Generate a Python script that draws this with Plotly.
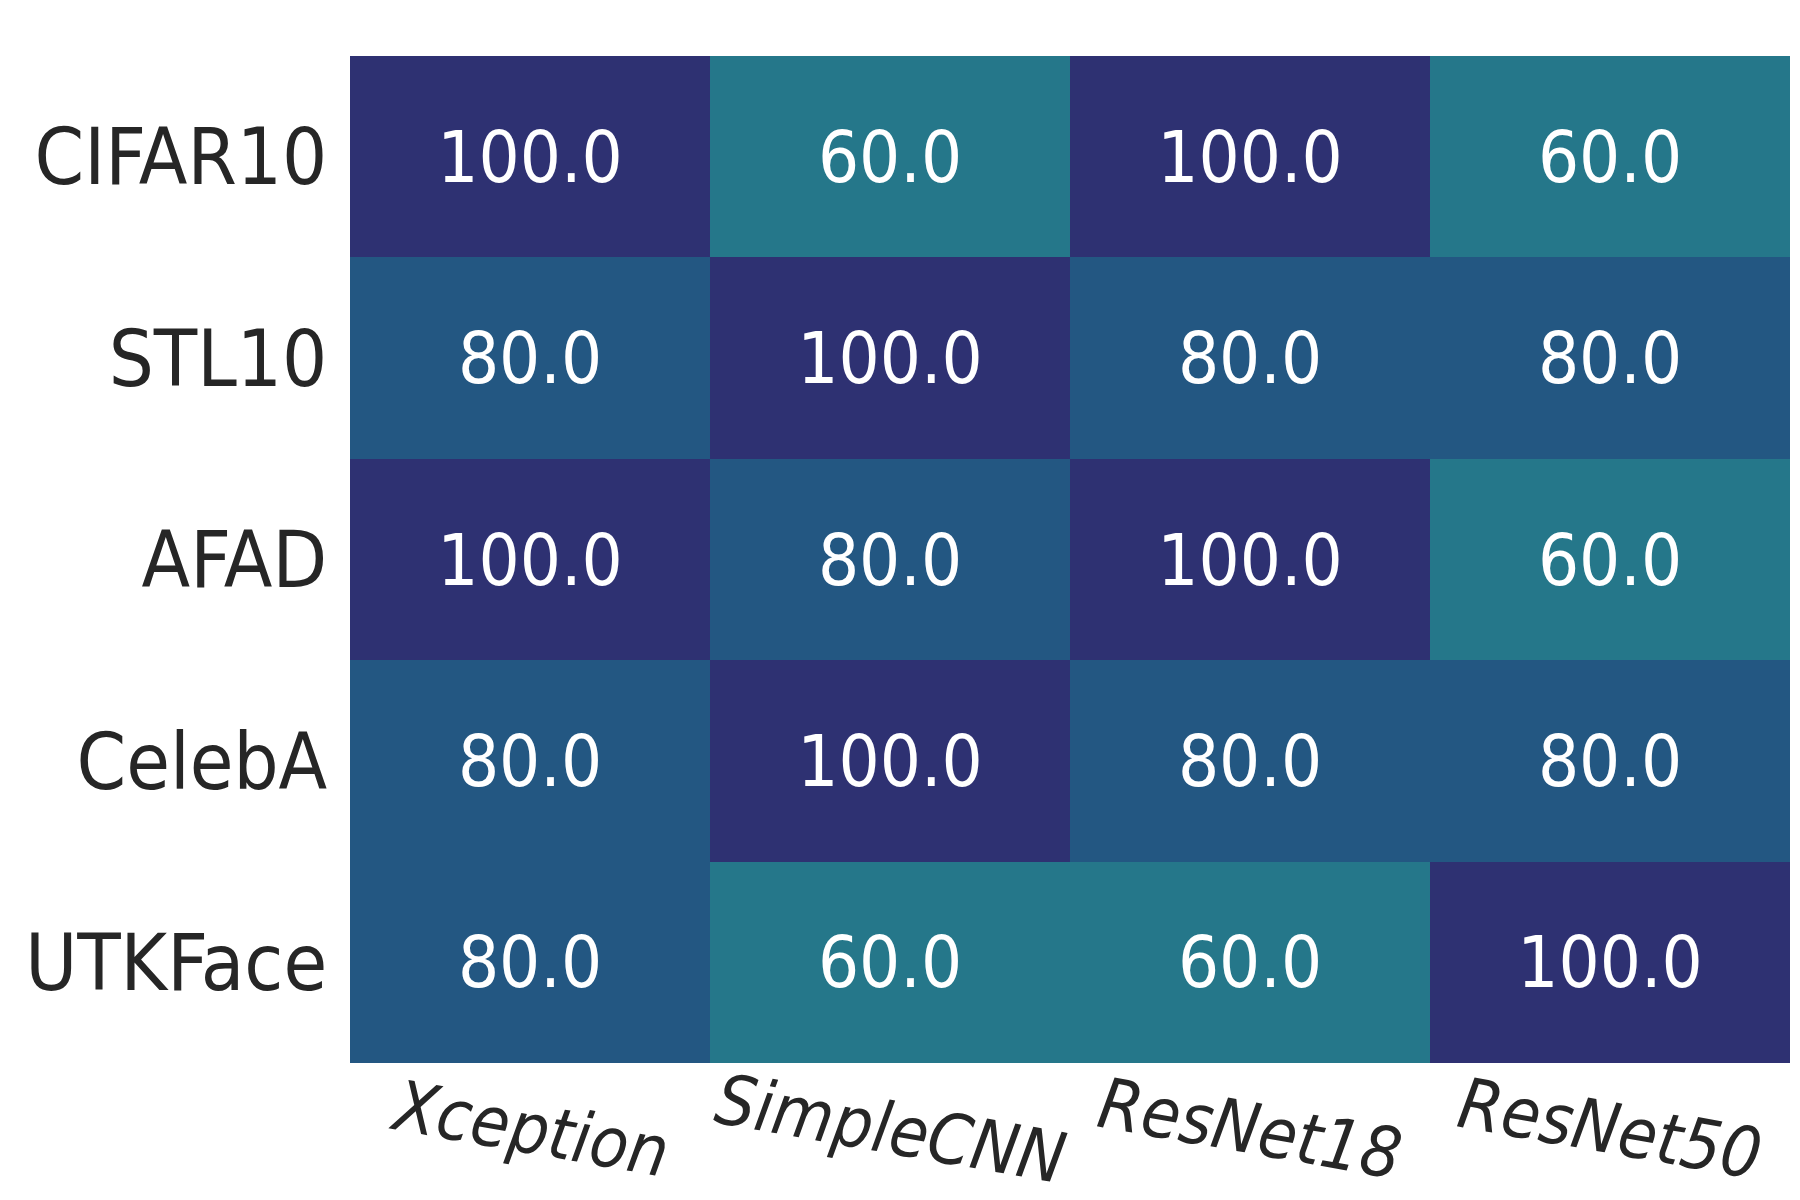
import plotly.graph_objects as go

models = ["Xception", "SimpleCNN", "ResNet18", "ResNet50"]
datasets = ["CIFAR10", "STL10", "AFAD", "CelebA", "UTKFace"]
values = [
    [100.0, 60.0, 100.0, 60.0],
    [80.0, 100.0, 80.0, 80.0],
    [100.0, 80.0, 100.0, 60.0],
    [80.0, 100.0, 80.0, 80.0],
    [80.0, 60.0, 60.0, 100.0],
]

FONT = "DejaVu Sans Condensed, Liberation Sans Narrow, sans-serif"

colorscale = [
    [0.0, "#25778A"], [0.25, "#25778A"],
    [0.25, "#235782"], [0.75, "#235782"],
    [0.75, "#2E3172"], [1.0, "#2E3172"],
]

fig = go.Figure(go.Heatmap(
    z=values, x=models, y=datasets,
    zmin=50, zmax=110,
    colorscale=colorscale, showscale=False,
    texttemplate="%{z:.1f}",
    textfont=dict(family=FONT, size=72, color="white"),
    hoverinfo="skip",
))

for m in models:
    fig.add_annotation(
        x=m, xref="x", y=0, yref="paper", yanchor="middle", xanchor="center",
        yshift=-66, text=m, showarrow=False, textangle=10,
        font=dict(family=FONT, size=70, color="#262626", style="italic"),
    )

fig.update_layout(
    width=1800, height=1200,
    margin=dict(l=342, r=18, t=48, b=145, autoexpand=False),
    paper_bgcolor="white", plot_bgcolor="white",
    font=dict(family=FONT, color="#262626"),
)
fig.update_xaxes(showticklabels=False, showgrid=False, zeroline=False, ticks="",
                 automargin=False)
fig.update_yaxes(autorange="reversed", showgrid=False, zeroline=False,
                 ticks="outside", ticklen=6, tickcolor="rgba(0,0,0,0)",
                 automargin=False,
                 tickfont=dict(family=FONT, size=79, color="#262626"))

fig.write_html("out.html")
